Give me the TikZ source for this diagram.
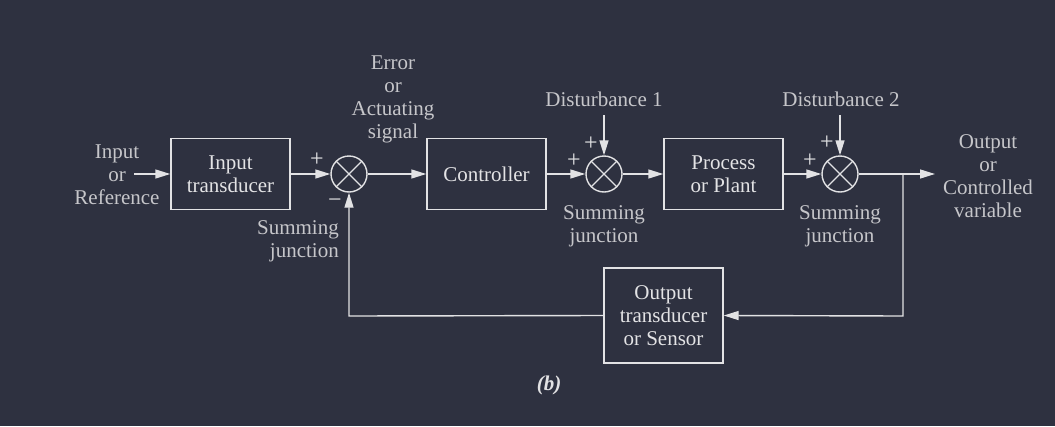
\documentclass[tikz,border=0pt]{standalone}
\usepackage{fontspec}
\setmainfont{Liberation Serif}
\newfontfamily\tms{Liberation Serif}
\usetikzlibrary{arrows.meta}
\definecolor{bg}{HTML}{2E3140}
\definecolor{ln}{HTML}{E2E2E4}
\definecolor{lbl}{HTML}{C6C6CA}
\begin{document}
\begin{tikzpicture}[x=1pt,y=-1pt,
  every node/.style={font=\tms\fontsize{21}{23}\selectfont},
  blockbox/.style={draw=ln,line width=1.4pt,rectangle,inner sep=0pt,minimum width=119pt,minimum height=71pt,align=center,text=ln!95!white},
  sumj/.style={draw=ln,line width=1.4pt,circle,inner sep=0pt,minimum size=36pt},
  lab/.style={text=lbl,align=center,inner sep=0pt},
  sgn/.style={text=ln,inner sep=0pt,font=\tms\fontsize{24}{24}\selectfont},
  wire/.style={draw=ln,line width=1.4pt},
  arr/.style={wire,-{Triangle[length=15pt,width=9pt]}}]
\fill[bg] (0,0) rectangle (1055,426);
\useasboundingbox (0,0) rectangle (1055,426);
% blocks
\node[blockbox] (intr) at (230.5,174) {Input\\transducer};
\node[sumj] (s1) at (349,174) {};
\node[blockbox] (ctrl) at (486.5,174) {Controller};
\node[sumj] (s2) at (604,174) {};
\node[blockbox] (proc) at (723.5,174) {Process\\or Plant};
\node[sumj] (s3) at (840,174) {};
\node[blockbox,minimum height=95pt] (outtr) at (663.5,315.5) {Output\\transducer\\or Sensor};
\foreach \s in {s1,s2,s3}{
  \draw[ln,line width=1.2pt] (\s.45) -- (\s.225) (\s.135) -- (\s.-45);
}
% coordinates
\coordinate (inS) at (134,174);
\coordinate (br) at (903,174);
\coordinate (outE) at (935,174);
\coordinate (d1) at (604,115);
\coordinate (d2) at (840,115);
\coordinate (fbR) at (903,316);
\coordinate (fbL) at (349,316);
% labels
\node[lab] (inlab) at (117,175) {Input\\or\\Reference};
\node[lab] (errlab) at (393,99) {Error\\or\\Actuating\\signal};
\node[lab] (dist1) at (604,99) {Disturbance 1};
\node[lab] (dist2) at (841,99) {Disturbance 2};
\node[lab] (outlab) at (988,176) {Output\\or\\Controlled\\variable};
\node[lab,align=right,anchor=east] (sj1) at (339,241) {Summing\\junction};
\node[lab] (sj2) at (604,226) {Summing\\junction};
\node[lab] (sj3) at (840,226) {Summing\\junction};
\node[sgn] (p1) at (317,160) {+};
\node[sgn] (m1) at (335,203) {\char"2212};
\node[sgn] (p2a) at (574,161) {+};
\node[sgn] (p2b) at (591,144) {+};
\node[sgn] (p3a) at (810,161) {+};
\node[sgn] (p3b) at (827,143) {+};
\node[text=ln,inner sep=0pt] (cap) at (549,385) {\textbf{\textit{(b)}}};
% connectors
\draw[arr] (inS) -- (intr.west);
\draw[arr] (intr.east) -- (s1.west);
\draw[arr] (s1.east) -- (ctrl.west);
\draw[arr] (ctrl.east) -- (s2.west);
\draw[arr] (s2.east) -- (proc.west);
\draw[arr] (proc.east) -- (s3.west);
\draw[arr] (s3.east) -- (outE);
\draw[arr] (d1) -- (s2.north);
\draw[arr] (d2) -- (s3.north);
\draw[arr] (br) -- (fbR) -- (outtr.east);
\draw[arr] (outtr.west) -- (fbL) -- (s1.south);
\end{tikzpicture}
\end{document}
